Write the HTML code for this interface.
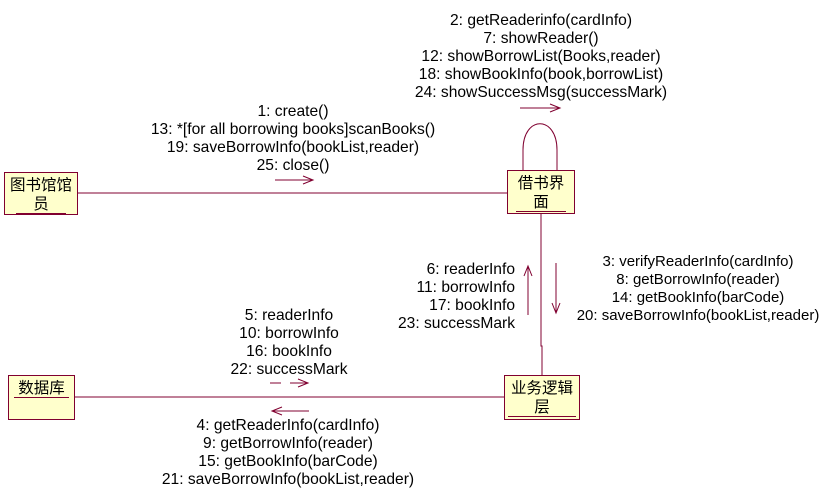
<!DOCTYPE html>
<html><head><meta charset="utf-8"><style>
body{margin:0;background:#fff;width:833px;height:494px;overflow:hidden;position:relative;font-family:"Liberation Sans","Noto Sans CJK SC",sans-serif;font-size:15.6px;color:#000}
.t{position:absolute;white-space:nowrap;line-height:18px}
.c{text-align:center}.r{text-align:right}
.box{position:absolute;background:#ffffcc;border:1px solid #800030;font-size:15.5px;text-align:center;line-height:19px;box-sizing:border-box}
.box span{border-bottom:1px solid #800030}
</style></head><body>
<svg width="833" height="494" style="position:absolute;left:0;top:0" fill="none" stroke="#800030" stroke-width="1">
<line x1="78" y1="193" x2="507" y2="193"/>
<line x1="75" y1="397" x2="504" y2="397"/>
<polyline points="541,213 541,346 542,346 542,375"/>
<path d="M523,170 L523,150 C523,115 557,115 557,150 L557,170"/>
<line x1="520" y1="108" x2="560" y2="108"/><polyline points="550,104 560,108 550,112"/>
<line x1="275" y1="180" x2="313" y2="180"/><polyline points="303,176 313,180 303,184"/>
<line x1="528" y1="315" x2="528" y2="266"/><polyline points="524,276 528,266 532,276"/>
<line x1="556" y1="263" x2="556" y2="313"/><polyline points="552,303 556,313 560,303"/>
<line x1="270" y1="383" x2="281" y2="383"/><line x1="290" y1="383" x2="308" y2="383"/><polyline points="298,379 308,383 298,387"/>
<line x1="309" y1="411" x2="272" y2="411"/><polyline points="282,407 272,411 282,415"/>
</svg>
<div class="box" style="left:4px;top:172px;width:74px;height:43px;padding-top:3px">图书馆馆<br><span>&nbsp;&nbsp;&nbsp;&nbsp;员&nbsp;&nbsp;&nbsp;&nbsp;</span></div>
<div class="box" style="left:507px;top:170px;width:68px;height:44px;padding-top:3px">借书界<br><span>&nbsp;&nbsp;&nbsp;&nbsp;面&nbsp;&nbsp;&nbsp;&nbsp;</span></div>
<div class="box" style="left:8px;top:375px;width:67px;height:45px;padding-top:3px"><span>&nbsp;数据库&nbsp;</span></div>
<div class="box" style="left:504px;top:375px;width:76px;height:45px;padding-top:3px">业务逻辑<br><span>&nbsp;&nbsp;&nbsp;&nbsp;&nbsp;&nbsp;层&nbsp;&nbsp;&nbsp;&nbsp;&nbsp;&nbsp;</span></div>
<div class="t c" style="left:391px;width:300px;top:12px">2: getReaderinfo(cardInfo)<br>7: showReader()<br>12: showBorrowList(Books,reader)<br>18: showBookInfo(book,borrowList)<br>24: showSuccessMsg(successMark)</div>
<div class="t c" style="left:143px;width:300px;top:103px">1: create()<br>13: *[for all borrowing books]scanBooks()<br>19: saveBorrowInfo(bookList,reader)<br>25: close()</div>
<div class="t c" style="left:548px;width:300px;top:253px;font-size:15px">3: verifyReaderInfo(cardInfo)<br>8: getBorrowInfo(reader)<br>14: getBookInfo(barCode)<br>20: saveBorrowInfo(bookList,reader)</div>
<div class="t r" style="left:300px;width:215px;top:261px">6: readerInfo<br>11: borrowInfo<br>17: bookInfo<br>23: successMark</div>
<div class="t c" style="left:139px;width:300px;top:307px">5: readerInfo<br>10: borrowInfo<br>16: bookInfo<br>22: successMark</div>
<div class="t c" style="left:138px;width:300px;top:417px">4: getReaderInfo(cardInfo)<br>9: getBorrowInfo(reader)<br>15: getBookInfo(barCode)<br>21: saveBorrowInfo(bookList,reader)</div>
</body></html>
